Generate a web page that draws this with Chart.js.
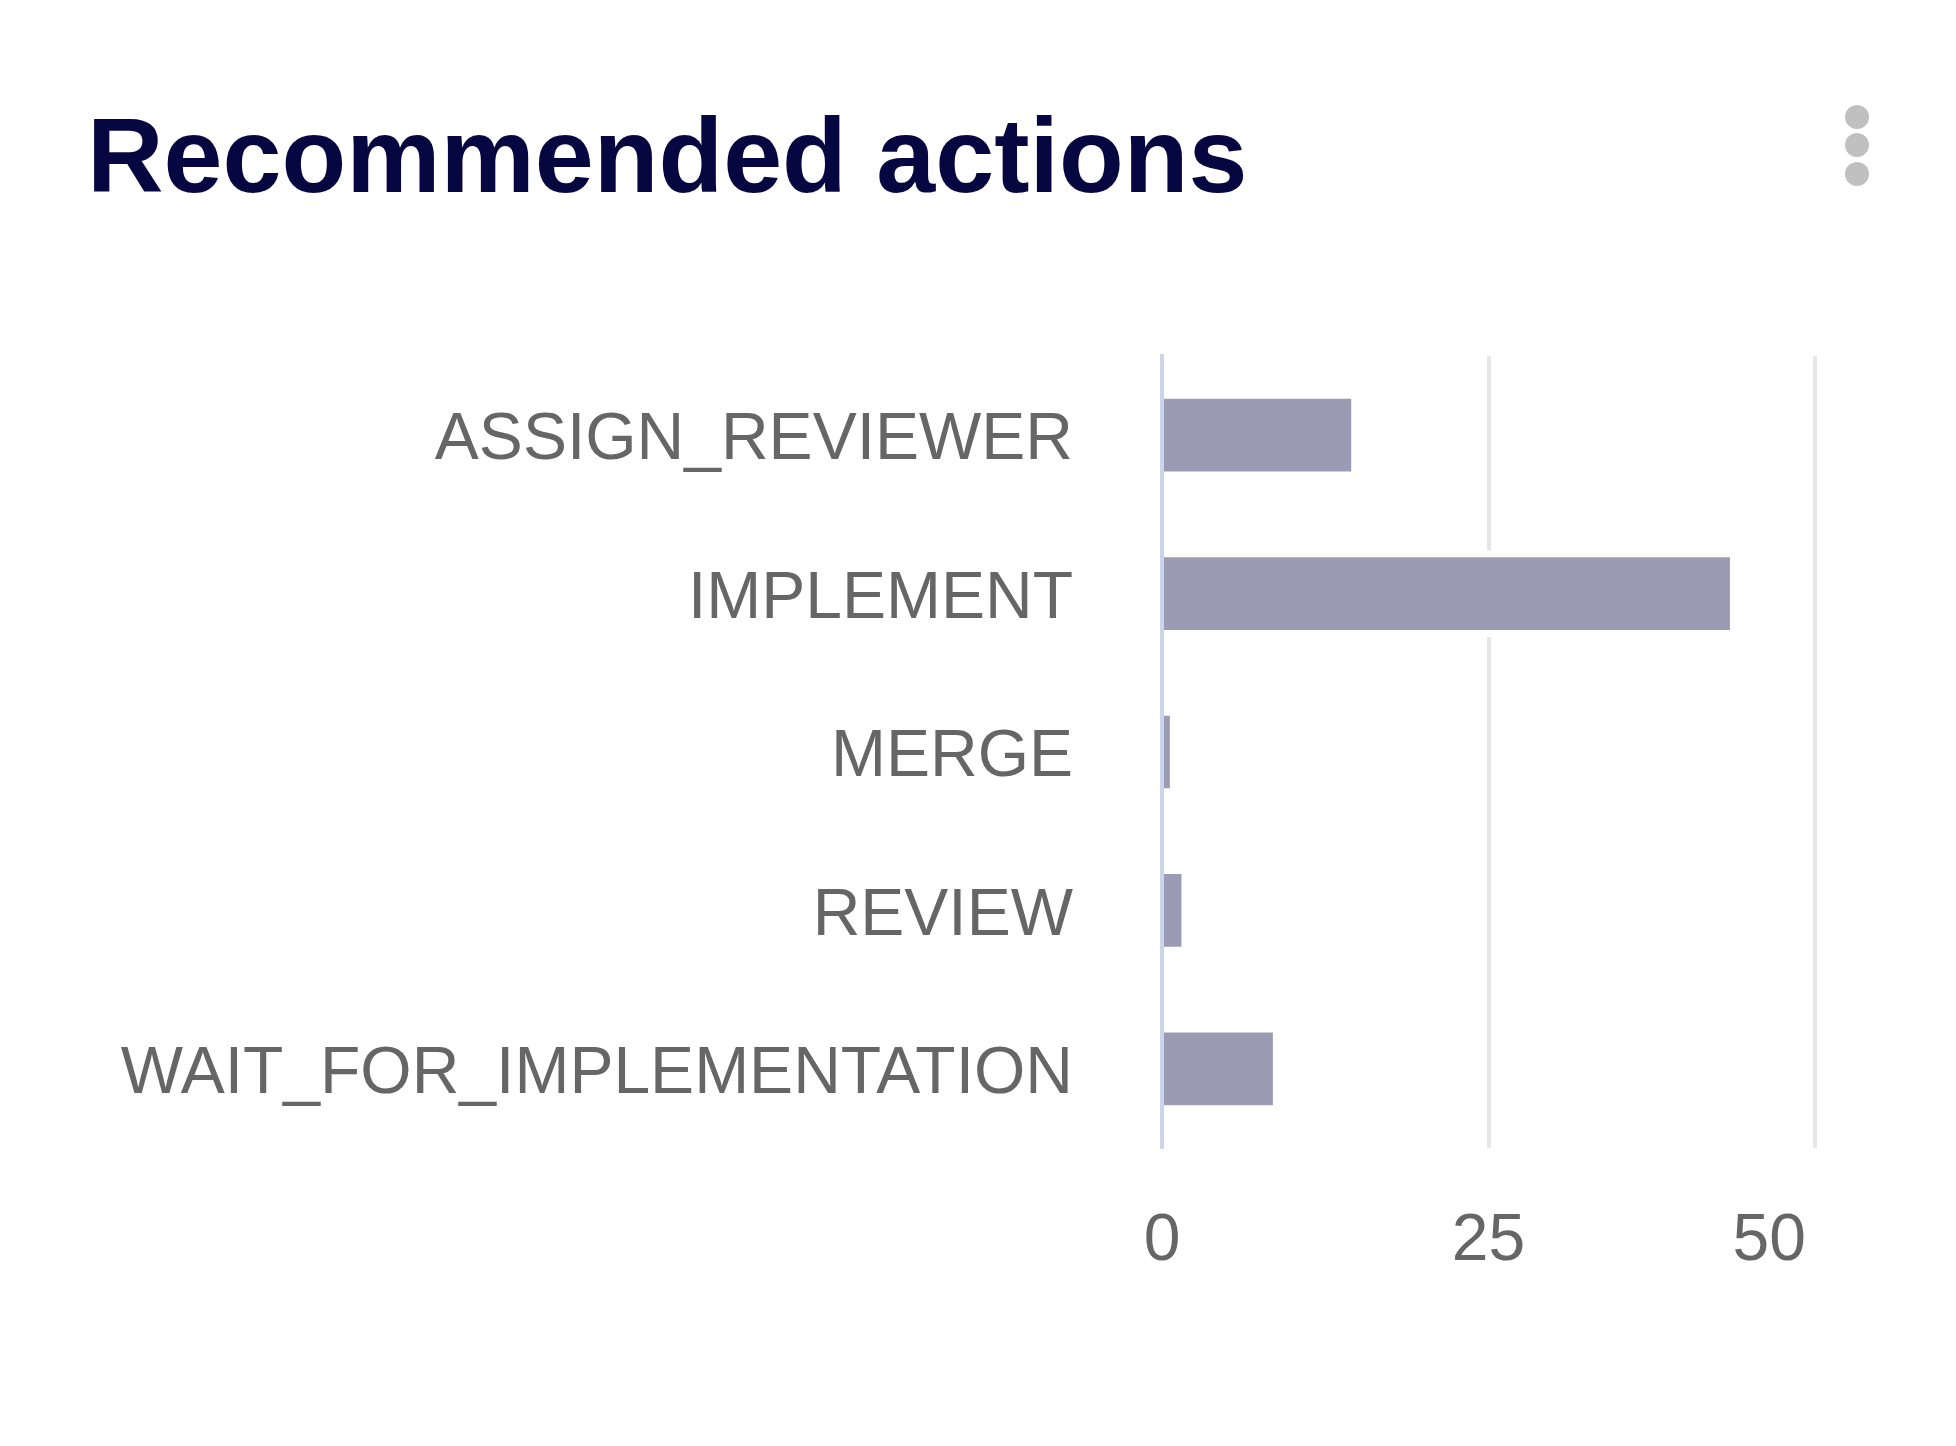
<!DOCTYPE html>
<html>
<head>
<meta charset="utf-8">
<title>Recommended actions</title>
<script src="https://cdn.jsdelivr.net/npm/chart.js@4"></script>
<style>
    html, body {
        margin: 0;
        padding: 0;
        background: #ffffff;
        overflow: hidden;
    }
    #chart-title {
        position: absolute;
        left: 87px;
        top: 102px;
        margin: 0;
        font-family: "Liberation Sans", Arial, sans-serif;
        font-weight: bold;
        font-size: 106px;
        line-height: 1;
        color: #060640;
        white-space: nowrap;
        z-index: 2;
    }
    .menu-dot {
        position: absolute;
        left: 1845px;
        width: 24px;
        height: 24px;
        border-radius: 50%;
        background: #c0c0c0;
        z-index: 2;
    }
    #chart-wrap {
        position: absolute;
        left: 0;
        top: 0;
        width: 1956px;
        height: 1446px;
    }
</style>
</head>
<body>
<h1 id="chart-title">Recommended actions</h1>
<div class="menu-dot" style="top: 105px"></div>
<div class="menu-dot" style="top: 133px"></div>
<div class="menu-dot" style="top: 162px"></div>
<div id="chart-wrap"><canvas id="actions-chart"></canvas></div>

<script>
const actionLabels = ['ASSIGN_REVIEWER', 'IMPLEMENT', 'MERGE', 'REVIEW', 'WAIT_FOR_IMPLEMENTATION'];
const actionCounts = [15, 44, 1, 2, 9];
const xTicks = [0, 25, 50];

function drawActionsChart() {
    const ctx = document.getElementById('actions-chart').getContext('2d');

    Chart.defaults.font.family = '"Liberation Sans", Arial, sans-serif';
    Chart.defaults.color = '#666666';

    window.actionsChart = new Chart(ctx, {
        type: 'bar',
        data: {
            labels: actionLabels,
            datasets: [{
                label: 'Recommended actions',
                data: actionCounts,
                backgroundColor: '#9b9bb3',
                borderColor: '#ffffff',
                borderWidth: 7,
                borderSkipped: 'start',
                barThickness: 86
            }]
        },
        options: {
            indexAxis: 'y',
            responsive: true,
            maintainAspectRatio: false,
            animation: false,
            layout: {
                padding: { top: 356, right: 141, bottom: 164, left: 0 }
            },
            plugins: {
                legend: { display: false },
                tooltip: { enabled: false }
            },
            scales: {
                x: {
                    min: xTicks[0],
                    max: xTicks[xTicks.length - 1],
                    afterBuildTicks: scale => {
                        scale.ticks = xTicks.map(v => ({ value: v }));
                    },
                    afterFit: scale => {
                        scale.height = 134;
                    },
                    grid: {
                        color: '#e6e6e6',
                        lineWidth: 4,
                        drawTicks: false
                    },
                    border: { display: false },
                    ticks: {
                        padding: 54,
                        font: { size: 66 },
                        color: '#666666',
                        // last label sits a bit left of its gridline in the original
                        callback: (value, index, ticks) =>
                            index === ticks.length - 1 ? value + '     ' : value
                    }
                },
                y: {
                    afterFit: scale => {
                        scale.width = 1162;
                    },
                    grid: { display: false, drawTicks: false },
                    border: {
                        display: true,
                        color: '#cad5ea',
                        width: 4
                    },
                    ticks: {
                        padding: 89,
                        labelOffset: 6,
                        font: { size: 66 },
                        color: '#666666'
                    }
                }
            }
        }
    });
}

document.addEventListener('DOMContentLoaded', () => {
    drawActionsChart();
});
</script>
</body>
</html>
